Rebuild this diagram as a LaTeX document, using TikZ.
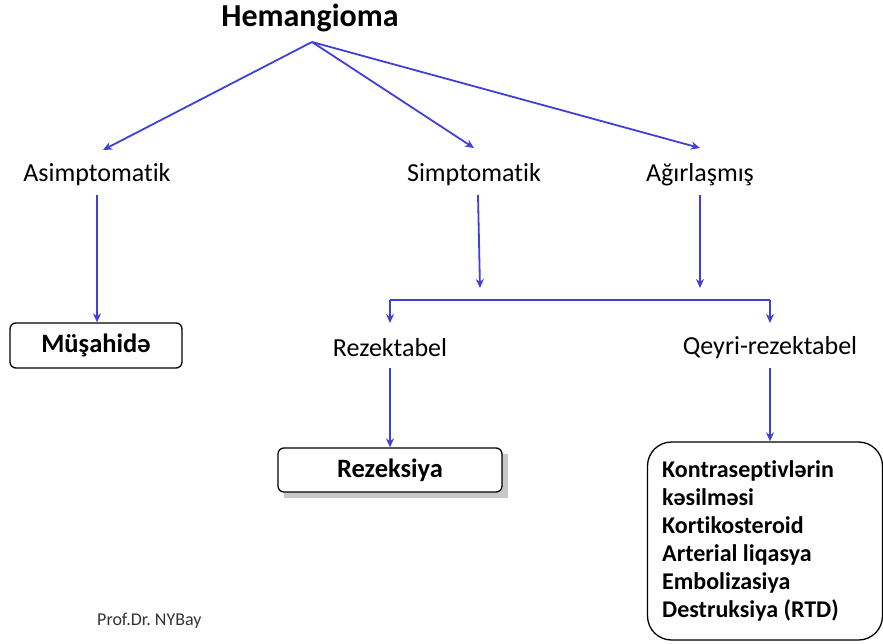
\documentclass[tikz,border=0pt]{standalone}
\usepackage{fontspec}
\setmainfont{Carlito}[RawFeature=-liga]
\usetikzlibrary{arrows.meta,shadows}
\definecolor{arrowblue}{RGB}{64,64,214}
\definecolor{shadowgray}{RGB}{200,200,200}
\tikzset{
  lbl/.style={inner sep=0pt,font=\fontsize{26}{30}\selectfont},
  conn/.style={draw=arrowblue,line width=1.8pt,-{Stealth[length=9pt,width=8pt]}},
  plain/.style={draw=arrowblue,line width=1.8pt},
  rbox/.style={draw=black,line width=1.3pt,rounded corners=6pt,fill=white,font=\fontsize{26.5}{30}\selectfont\bfseries,inner sep=0pt},
}
\begin{document}
\begin{tikzpicture}[x=1pt,y=-1pt]
\useasboundingbox (0,0) rectangle (883,644);
% nodes
\node[lbl,font=\fontsize{32}{36}\selectfont\bfseries] (hem) at (310,18) {Hemangioma};
\coordinate (apex) at (312,42);
\node[lbl] (asi) at (97,175) {Asimptomatik};
\node[lbl] (sim) at (474,175) {Simptomatik};
\node[lbl] (agi) at (700,175) {Ağırlaşmış};
\node[rbox,minimum width=172pt,minimum height=45pt] (mus) at (96,345.5) {Müşahidə};
\node[lbl] (rez) at (390,348) {Rezektabel};
\node[lbl] (qey) at (770,348) {Qeyri-rezektabel};
\fill[shadowgray] (284,454) rectangle (508,498);
\node[rbox,minimum width=224pt,minimum height=44pt] (rzs) at (390,470) {Rezeksiya};
\node[rbox,rounded corners=24pt,minimum width=235pt,minimum height=198pt] (big) at (765,541) {};
\node[anchor=north west,inner sep=0pt,align=left,font=\fontsize{24}{28}\selectfont\bfseries] (bigtxt) at (662,460.5) {Kontraseptivlərin\\kəsilməsi\\Kortikosteroid\\Arterial liqasya\\Embolizasiya\\Destruksiya (RTD)};
\node[anchor=west,inner sep=0pt,text=black!80,font=\fontsize{18}{20}\selectfont] (prof) at (97,621) {Prof.Dr.\ NYBay};
% connectors
\coordinate (a1) at (103,150);
\coordinate (a2) at (474,148);
\coordinate (a3) at (700,148);
\draw[conn] (apex) -- (a1);
\draw[conn] (apex) -- (a2);
\draw[conn] (apex) -- (a3);
\draw[conn] (97,195) -- (mus.north -| 97,0);
\coordinate (s1) at (478,195);
\coordinate (s2) at (480,288);
\coordinate (g1) at (700,195);
\coordinate (g2) at (700,288);
\draw[conn] (s1) -- (s2);
\draw[conn] (g1) -- (g2);
\coordinate (bl) at (390,300);
\coordinate (br) at (770,300);
\draw[plain] (bl) -- (br);
\draw[conn] (bl) -- (390,323);
\draw[conn] (br) -- (770,323);
\draw[conn] (390,368) -- (rzs.north);
\draw[conn] (770,368) -- (big.north -| 770,0);
\end{tikzpicture}
\end{document}
